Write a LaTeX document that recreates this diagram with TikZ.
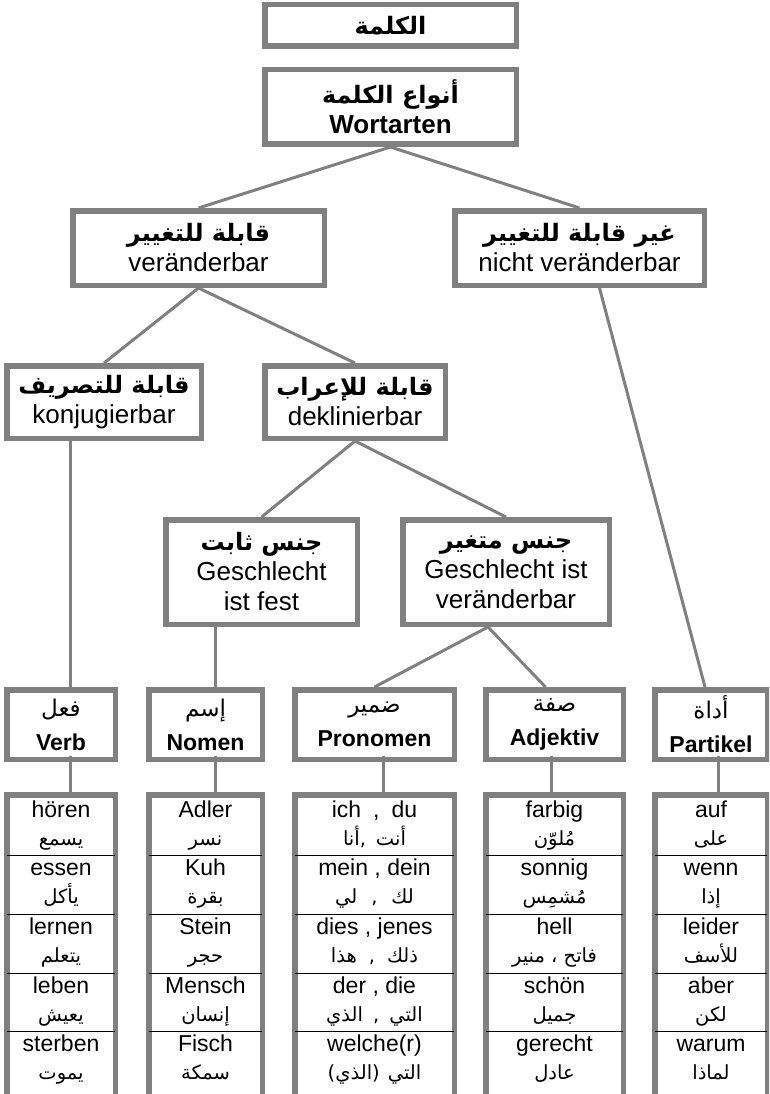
\documentclass[tikz,border=0pt]{standalone}
\usepackage{fontspec}
\setmainfont{Liberation Sans}
\newfontfamily\arabicfont[Script=Arabic]{DejaVu Sans}
\TeXXeTstate=1

\definecolor{boxgray}{RGB}{128,128,128}

\newcommand{\arHead}[1]{{\arabicfont\bfseries\fontsize{24}{26}\selectfont\beginR #1\endR}}
\newcommand{\arType}[1]{{\arabicfont\mdseries\fontsize{23}{26}\selectfont\beginR #1\endR}}
\newcommand{\arWord}[1]{{\arabicfont\fontsize{19.5}{22}\selectfont\beginR #1\endR}}

\tikzset{
  hbox/.style={draw=boxgray,line width=5.5pt,fill=white,align=center,
    inner sep=0pt,font=\fontsize{26}{30}\selectfont},
  typebox/.style={draw=boxgray,line width=5.5pt,fill=white,align=center,
    inner sep=0pt,minimum height=69.5pt,
    font=\bfseries\fontsize{23}{34}\selectfont},
  tabbox/.style={draw=boxgray,line width=5.5pt,inner sep=0pt,
    minimum height=302.5pt},
  link/.style={draw=boxgray,line width=3pt},
  rowline/.style={black,line width=1pt,shorten >=2.75pt,shorten <=2.75pt},
  deword/.style={anchor=base,inner sep=0pt,font=\fontsize{23}{27}\selectfont},
  arword/.style={anchor=base,inner sep=0pt}
}

\begin{document}
\begin{tikzpicture}[x=1pt,y=-1pt]

\useasboundingbox (0,0) rectangle (769,1094);
\clip (0,0) rectangle (769,1094);

% upper part of the tree
\node[hbox,minimum width=251.5pt,minimum height=41.5pt]
     at (390.5,25.5) (kalimaBox)
     {\arHead{الكلمة}};
\node[hbox,minimum width=251.5pt,minimum height=74.5pt]
     at (390.5,107) (wortBox)
     {\arHead{أنواع الكلمة}\\\textbf{Wortarten}};

\node[hbox,minimum width=251.5pt,minimum height=74.5pt]
     at (198.5,248) (verBox)
     {\arHead{قابلة للتغيير}\\veränderbar};
\node[hbox,minimum width=249.5pt,minimum height=74.5pt]
     at (579.5,248) (nichtBox)
     {\arHead{غير قابلة للتغيير}\\nicht veränderbar};

\node[hbox,minimum width=194.5pt,minimum height=72.5pt]
     at (104,402) (konjBox)
     {\arHead{قابلة للتصريف}\\konjugierbar};
\node[hbox,minimum width=180.5pt,minimum height=72.5pt]
     at (355,402) (deklBox)
     {\arHead{قابلة للإعراب}\\deklinierbar};

\node[hbox,minimum width=191.5pt,minimum height=104.5pt]
     at (261.5,572) (festBox)
     {\arHead{جنس ثابت}\\Geschlecht\\ist fest};
\node[hbox,minimum width=206.5pt,minimum height=104.5pt]
     at (506,572) (varBox)
     {\arHead{جنس متغير}\\Geschlecht ist\\veränderbar};

% word types
\node[typebox,minimum width=108.5pt] at (61,724.5) (verbBox)
     {\arType{فعل}\\Verb};
\node[typebox,minimum width=113.5pt] at (205.5,724.5) (nomenBox)
     {\arType{إسم}\\Nomen};
\node[typebox,minimum width=159.5pt] at (374.5,724.5) (pronBox)
     {\arType{ضمير}\\Pronomen};
\node[typebox,minimum width=137.5pt] at (554.5,724.5) (adjBox)
     {\arType{صفة}\\Adjektiv};
\node[typebox,minimum width=112.5pt] at (711,724.5) (partBox)
     {\arType{أداة}\\Partikel};

% connectors
\draw[link] (wortBox.south) -- (verBox.north);
\draw[link] (wortBox.south) -- (nichtBox.north);
\draw[link] (verBox.south) -- (konjBox.north);
\draw[link] (verBox.south) -- (deklBox.north);
\draw[link] (deklBox.south) -- (festBox.north);
\draw[link] (deklBox.south) -- (varBox.north);
\draw[link] ([xshift=9pt]verbBox.north)
     -- ([xshift=9pt]verbBox.north |- konjBox.south);
\draw[link] ([xshift=9.5pt]nomenBox.north)
     -- ([xshift=9.5pt]nomenBox.north |- festBox.south);
\draw[link] ([xshift=-18pt]varBox.south) -- (pronBox.north);
\draw[link] ([xshift=-18pt]varBox.south) -- ([xshift=-9pt]adjBox.north);
\draw[link] ([xshift=20pt]nichtBox.south) -- ([xshift=-6pt]partBox.north);

% word tables
\node[tabbox,minimum width=108.5pt] at (61,946) (verbTab) {};
\node[tabbox,minimum width=113.5pt] at (205.5,946) (nomenTab) {};
\node[tabbox,minimum width=159.5pt] at (374.5,946) (pronTab) {};
\node[tabbox,minimum width=137.5pt] at (554.5,946) (adjTab) {};
\node[tabbox,minimum width=112.5pt] at (711,946) (partTab) {};

\foreach \tab in {verbTab,nomenTab,pronTab,adjTab,partTab}
  \foreach \sy in {855.5,914,973,1031.5}
    \draw[rowline] (\tab.west |- 0,\sy) -- (\tab.east |- 0,\sy);

\draw[link,shorten <=-6pt] ([xshift=9pt]verbBox.south)
     -- ([xshift=9pt]verbTab.north);
\draw[link,shorten <=-6pt] ([xshift=9.5pt]nomenBox.south)
     -- ([xshift=9.5pt]nomenTab.north);
\draw[link,shorten <=-6pt] ([xshift=8.5pt]pronBox.south)
     -- ([xshift=8.5pt]pronTab.north);
\draw[link,shorten <=-6pt] ([xshift=-3.5pt]adjBox.south)
     -- ([xshift=-3.5pt]adjTab.north);
\draw[link,shorten <=-6pt] ([xshift=7pt]partBox.south)
     -- ([xshift=7pt]partTab.north);

\foreach \wGer/\wAra [count=\n] in
  {hören/يسمع,essen/يأكل,lernen/يتعلم,leben/يعيش,sterben/يموت}{
  \node[deword] at (61,{817+58.7*(\n-1)}) (verbDe\n) {\wGer};
  \node[arword] at (61,{845+58.7*(\n-1)}) (verbAr\n) {\arWord{\wAra}};
}
\foreach \wGer/\wAra [count=\n] in
  {Adler/نسر,Kuh/بقرة,Stein/حجر,Mensch/إنسان,Fisch/سمكة}{
  \node[deword] at (205.5,{817+58.7*(\n-1)}) (nomenDe\n) {\wGer};
  \node[arword] at (205.5,{845+58.7*(\n-1)}) (nomenAr\n) {\arWord{\wAra}};
}
\foreach \wGer/\wAra [count=\n] in
  {{ich\hspace{12pt},\hspace{12pt}du}/{أنت\hspace{10pt},أنا},
   {mein , dein}/{لك\hspace{14pt},\hspace{14pt}لي},
   {dies , jenes}/{ذلك\hspace{12pt},\hspace{12pt}هذا},
   {der , die}/{التي\hspace{10pt},\hspace{10pt}الذي},
   {welche(r)}/{التي\hspace{8pt}(الذي)}}{
  \node[deword] at (374.5,{817+58.7*(\n-1)}) (pronDe\n) {\wGer};
  \node[arword] at (374.5,{845+58.7*(\n-1)}) (pronAr\n) {\arWord{\wAra}};
}
\foreach \wGer/\wAra [count=\n] in
  {farbig/مُلوّن,sonnig/مُشمِس,hell/{فاتح ، منير},schön/جميل,gerecht/عادل}{
  \node[deword] at (554.5,{817+58.7*(\n-1)}) (adjDe\n) {\wGer};
  \node[arword] at (554.5,{845+58.7*(\n-1)}) (adjAr\n) {\arWord{\wAra}};
}
\foreach \wGer/\wAra [count=\n] in
  {auf/على,wenn/إذا,leider/للأسف,aber/لكن,warum/لماذا}{
  \node[deword] at (711,{817+58.7*(\n-1)}) (partDe\n) {\wGer};
  \node[arword] at (711,{845+58.7*(\n-1)}) (partAr\n) {\arWord{\wAra}};
}

\end{tikzpicture}
\end{document}
